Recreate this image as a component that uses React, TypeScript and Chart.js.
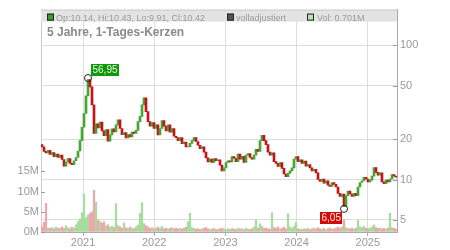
import React, { useEffect, useRef } from "react";
import { Chart, registerables } from "chart.js";

Chart.register(...registerables);

const TITLE = "5 Jahre, 1-Tages-Kerzen";
const LEGEND_OHLC = "Op:10.14, Hi:10.43, Lo:9.91, Cl:10.42";
const LEGEND_ADJ = "volladjustiert";
const LEGEND_VOL = "Vol: 0.701M";

const START_YEAR = 2020.41;
const SPAN_YEARS = 5;
const YEAR_TICKS = [2021, 2022, 2023, 2024, 2025];
const PRICE_TICKS = [5, 10, 20, 50, 100];
const VOLUME_TICKS = [0, 5, 10, 15];

const FIRST_OPEN = 18.2;
const CLOSES = [
  17.5, 16.2, 15.8, 16.5, 15.4, 15.9, 14.8, 15.5, 14.6, 15.2,
  14.1, 12.6, 13.5, 14.3, 13.2, 12.9, 13.8, 14.6, 16.3, 19.5,
  24.5, 31, 42, 55.5, 49, 36, 22, 26, 24.2, 26.8,
  23, 21.2, 23.5, 19.3, 21.5, 23.8, 22.6, 25.5, 27.8, 24,
  21.6, 22.4, 20.4, 21.6, 20.8, 22.6, 22, 23.2, 27, 29.5,
  36, 40.5, 32, 27, 25, 26.5, 24, 25.5, 21.5, 24,
  27.5, 25, 23, 25.5, 22.5, 24, 21, 20.5, 19.5, 20.5,
  18.5, 19, 17.5, 17.6, 18.6, 19.5, 20.5, 19.2, 18, 17,
  17.5, 16, 14.5, 13.5, 14.2, 13.4, 14.3, 13.8, 14, 12.8,
  11.6, 12.2, 13.4, 13.8, 13.5, 14.8, 14.4, 13.6, 15.5, 14.2,
  14.9, 13.4, 15.2, 15.6, 14.6, 14.2, 15.2, 16.8, 16.2, 19.5,
  21.3, 19.5, 18.2, 16, 15.2, 15.8, 13.6, 13.2, 12.5, 13.4,
  12.1, 11, 10.5, 11.1, 11.6, 12.2, 14.2, 14.8, 13.6, 14,
  13.2, 13.7, 12.6, 12.9, 12.2, 11.6, 11.9, 11.2, 10, 9.7,
  10.1, 9.4, 9.8, 9.1, 8.9, 9.5, 9.2, 8.8, 7.9, 7.5,
  7.8, 6.3, 7.6, 8.2, 7.8, 7.5, 7.9, 7.6, 8.8, 9.5,
  9.8, 10.4, 10.1, 9.6, 9.9, 10.6, 12.3, 11.3, 10.8, 11.2,
  9.6, 9.3, 9.9, 9.6, 10.1, 10.9, 10.6, 10.42,
];

// volume in millions
const VOLUMES = [
  1.2, 2.4, 7.1, 1.0, 0.9, 1.1, 0.8, 1.2, 0.9, 1.0,
  1.3, 0.9, 1.5, 1.1, 0.8, 1.2, 1.0, 1.8, 2.6, 3.2,
  4.8, 9.3, 3.5, 4.2, 4.6, 5.0, 10.3, 7.4, 3.0, 2.6,
  2.2, 2.5, 1.5, 1.8, 1.2, 1.4, 1.1, 7.0, 1.6, 1.3,
  1.0, 2.2, 1.1, 0.9, 1.2, 1.0, 0.8, 1.3, 1.7, 4.6,
  7.3, 2.1, 1.6, 1.2, 0.9, 1.1, 0.8, 1.0, 1.2, 0.9,
  1.4, 0.8, 1.0, 0.7, 0.9, 1.1, 0.8, 1.0, 0.7, 0.9,
  0.8, 1.0, 1.2, 2.5, 4.6, 1.1, 0.9, 0.7, 0.8, 0.6,
  0.7, 0.9, 1.1, 0.8, 0.6, 0.7, 0.9, 0.6, 0.7, 0.8,
  1.0, 0.7, 0.6, 0.8, 0.6, 0.9, 0.7, 0.6, 1.0, 0.7,
  0.8, 0.6, 0.9, 0.7, 0.6, 0.8, 1.2, 3.0, 1.0, 2.0,
  1.4, 0.9, 1.0, 0.8, 0.7, 4.8, 1.1, 0.9, 1.3, 0.8,
  0.9, 1.2, 0.8, 4.5, 1.2, 0.9, 1.4, 2.4, 0.8, 0.7,
  0.6, 0.8, 0.7, 0.9, 0.6, 0.8, 1.0, 0.7, 1.1, 0.8,
  0.7, 0.9, 0.6, 0.8, 1.0, 0.7, 0.8, 0.9, 1.2, 1.0,
  1.3, 3.0, 1.1, 0.9, 0.8, 1.0, 0.7, 0.9, 2.9, 1.2,
  1.1, 1.4, 0.9, 0.8, 1.0, 1.2, 1.8, 1.1, 0.9, 1.0,
  0.8, 0.9, 0.7, 1.0, 4.6, 1.1, 0.9, 0.7,
];

const MAX_INDEX = 23;
const MAX_VALUE = 56.95;
const MAX_LABEL = "56,95";
const MIN_INDEX = 151;
const MIN_VALUE = 6.05;
const MIN_LABEL = "6,05";

const FONT = "'Liberation Sans', Arial, sans-serif";
const GREEN = "#45a635";
const RED = "#c3141b";
const VOL_GREEN = "#a8dc9e";
const VOL_RED = "#f2a5ae";
const GRID = "#dcdcdc";
const TEXT = "#9a9a9a";

export default function App() {
  const ref = useRef<HTMLCanvasElement>(null);

  useEffect(() => {
    const canvas = ref.current;
    if (!canvas) return;
    const n = CLOSES.length;
    const times = CLOSES.map((_, i) => START_YEAR + ((i + 0.5) * SPAN_YEARS) / n);
    const opens = CLOSES.map((_, i) => (i === 0 ? FIRST_OPEN : CLOSES[i - 1]));
    const up = CLOSES.map((c, i) => c >= opens[i]);

    const overlay = {
      id: "overlay",
      afterDatasetsDraw(chart: any) {
        const { ctx, chartArea: a, scales } = chart;
        const xs = scales.x;
        const ys = scales.y;
        const yv = scales.yv;
        ctx.save();

        // inward tick marks
        ctx.strokeStyle = "#9a9a9a";
        ctx.lineWidth = 1;
        ctx.beginPath();
        PRICE_TICKS.forEach((v) => {
          const py = Math.round(ys.getPixelForValue(v)) + 0.5;
          ctx.moveTo(a.right - 4, py);
          ctx.lineTo(a.right, py);
        });
        VOLUME_TICKS.forEach((v) => {
          const py = Math.round(yv.getPixelForValue(v)) + 0.5;
          ctx.moveTo(a.left, py);
          ctx.lineTo(a.left + 4, py);
        });
        ctx.stroke();

        // header band
        ctx.fillStyle = "#e3e3e3";
        ctx.fillRect(a.left, a.top, a.right - a.left, 12);
        ctx.strokeStyle = "#cccccc";
        ctx.beginPath();
        ctx.moveTo(a.left, a.top + 0.5);
        ctx.lineTo(a.right, a.top + 0.5);
        ctx.stroke();

        const sq = (x: number, fill: string) => {
          ctx.fillStyle = fill;
          ctx.fillRect(x, a.top + 4, 7, 7);
          ctx.strokeStyle = "#222";
          ctx.strokeRect(x + 0.5, a.top + 4.5, 6, 6);
        };
        ctx.font = `9px ${FONT}`;
        ctx.textBaseline = "alphabetic";
        ctx.textAlign = "left";
        sq(a.left + 6, "#3c9c2c");
        ctx.fillStyle = TEXT;
        ctx.fillText(LEGEND_OHLC, a.left + 15, a.top + 11);
        sq(a.left + 186, "#555555");
        ctx.fillStyle = TEXT;
        ctx.fillText(LEGEND_ADJ, a.left + 195, a.top + 11);
        sq(a.left + 266, "#b8e4b0");
        ctx.fillStyle = TEXT;
        ctx.fillText(LEGEND_VOL, a.left + 276, a.top + 11);

        // title
        ctx.font = `bold 12px ${FONT}`;
        ctx.fillStyle = "#8a8a8a";
        ctx.fillText(TITLE, a.left + 6, a.top + 26);

        // extremes
        const mark = (idx: number, val: number, label: string, bg: string, above: boolean) => {
          const cx = xs.getPixelForValue(times[idx]);
          const cy = ys.getPixelForValue(val);
          ctx.strokeStyle = "#222";
          ctx.lineWidth = 1;
          ctx.beginPath();
          ctx.arc(cx, cy, 3.5, 0, Math.PI * 2);
          ctx.stroke();
          ctx.font = `10px ${FONT}`;
          const w = ctx.measureText(label).width + 3;
          const h = 12;
          const bx = above ? cx + 3 : cx - 2 - w;
          const by = above ? cy - 2 - h : cy + 3;
          ctx.fillStyle = bg;
          ctx.fillRect(Math.round(bx), Math.round(by), Math.round(w), h);
          ctx.fillStyle = "#f4f4e0";
          ctx.textBaseline = "middle";
          ctx.fillText(label, Math.round(bx) + 1.5, Math.round(by) + h / 2 + 0.5);
          ctx.textBaseline = "alphabetic";
        };
        mark(MAX_INDEX, MAX_VALUE, MAX_LABEL, "#0b9a0b", true);
        mark(MIN_INDEX, MIN_VALUE, MIN_LABEL, "#d40a0a", false);

        ctx.restore();
      },
    };

    const chart = new Chart(canvas, {
      type: "bar",
      data: {
        datasets: [
          {
            label: "Kerzen",
            yAxisID: "y",
            data: times.map((t, i) => ({ x: t, y: [opens[i], CLOSES[i]] })) as any,
            backgroundColor: up.map((u) => (u ? GREEN : RED)),
            barThickness: 2,
            grouped: false,
            order: 1,
          } as any,
          {
            label: "Volumen",
            yAxisID: "yv",
            data: times.map((t, i) => ({ x: t, y: VOLUMES[i] })) as any,
            backgroundColor: up.map((u) => (u ? VOL_GREEN : VOL_RED)),
            barThickness: 1.6,
            grouped: false,
            order: 2,
          } as any,
        ],
      },
      options: {
        animation: false,
        responsive: false,
        maintainAspectRatio: false,
        devicePixelRatio: 1,
        layout: { padding: { top: 7, left: 0, right: 0, bottom: 0 } },
        plugins: { legend: { display: false }, tooltip: { enabled: false } },
        scales: {
          x: {
            type: "linear",
            min: START_YEAR,
            max: START_YEAR + SPAN_YEARS,
            offset: false,
            afterBuildTicks: (s: any) => {
              s.ticks = YEAR_TICKS.map((v) => ({ value: v }));
            },
            afterFit: (s: any) => {
              s.height = 18;
            },
            grid: { color: GRID, offset: false, tickLength: 4, tickColor: "#aaaaaa" },
            border: { color: "#aaaaaa" },
            ticks: {
              color: TEXT,
              font: { family: FONT, size: 11 },
              padding: 0,
              maxRotation: 0,
              autoSkip: false,
              callback: (v: any) => String(v),
            },
          },
          y: {
            type: "logarithmic",
            position: "right",
            min: 4.07,
            max: 184,
            afterBuildTicks: (s: any) => {
              s.ticks = PRICE_TICKS.map((v) => ({ value: v }));
            },
            afterFit: (s: any) => {
              s.width = 53;
            },
            grid: { color: GRID, drawTicks: false },
            border: { color: "#aaaaaa" },
            ticks: {
              color: TEXT,
              font: { family: FONT, size: 11 },
              padding: 3,
              autoSkip: false,
              callback: (v: any) => String(v),
            },
          },
          yv: {
            type: "linear",
            position: "left",
            min: 0,
            max: 55,
            afterBuildTicks: (s: any) => {
              s.ticks = VOLUME_TICKS.map((v) => ({ value: v }));
            },
            afterFit: (s: any) => {
              s.width = 41;
            },
            grid: { drawOnChartArea: false, drawTicks: false },
            border: { color: "#cccccc" },
            ticks: {
              color: TEXT,
              font: { family: FONT, size: 11 },
              padding: 2,
              autoSkip: false,
              callback: (v: any) => `${v}M`,
            },
          },
        },
      } as any,
      plugins: [overlay],
    });

    return () => chart.destroy();
  }, []);

  return (
    <div style={{ position: "fixed", left: 0, top: 0, width: 450, height: 250 }}>
      <canvas ref={ref} width={450} height={250} style={{ display: "block", width: 450, height: 250 }} />
    </div>
  );
}
